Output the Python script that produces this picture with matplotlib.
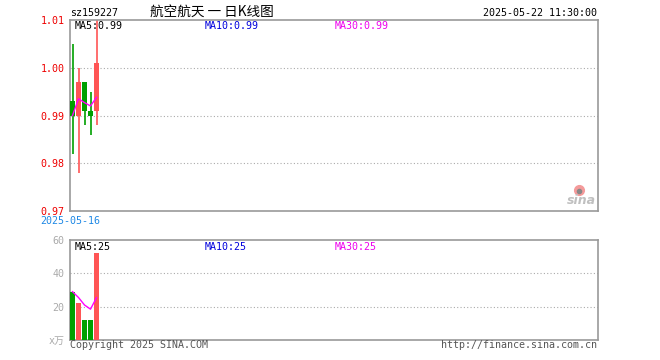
import matplotlib
matplotlib.use("Agg")
import matplotlib.pyplot as plt
import numpy as np

# K-line data (5 trading days)
opens = [0.993, 0.990, 0.997, 0.991, 0.991]
closes = [0.990, 0.997, 0.991, 0.990, 1.001]
highs = [1.005, 1.000, 0.997, 0.995, 1.012]
lows = [0.982, 0.978, 0.988, 0.986, 0.988]
ma5_price = [0.990, 0.9935, 0.9927, 0.992, 0.9938]

volumes = [29, 22, 12, 12, 52]
ma5_volume = [29, 25.5, 21, 18.5, 25.4]

price_ticks = [0.97, 0.98, 0.99, 1.00, 1.01]
volume_ticks = [0, 20, 40, 60]
volume_labels = ["x万", "20", "40", "60"]

RED = "#ff5555"
GREEN = "#00a000"
FRAME = "#999999"
MONO = "DejaVu Sans Mono"
FS = 7.2

W, H = 660, 360
fig = plt.figure(figsize=(W / 100, H / 100), dpi=100)


def px(x, y):
    return x / W, 1 - y / H


# axes placed in pixel units
ax = fig.add_axes([70 / W, 1 - 211 / H, 528 / W, 191 / H])
axv = fig.add_axes([70 / W, 1 - 340 / H, 528 / W, 100 / H])

n_slots = 528 / 6  # each candle takes 6 px
x = np.arange(len(opens))
colors = [RED if c >= o else GREEN for o, c in zip(opens, closes)]

for a in (ax, axv):
    a.set_xlim(-2.5 / 6, n_slots - 2.5 / 6)
    a.set_xticks([])
    for s in a.spines.values():
        s.set_color(FRAME)
        s.set_linewidth(1.2)

# candles
bottoms = [min(o, c) for o, c in zip(opens, closes)]
heights = [max(abs(c - o), 0.0003) for o, c in zip(opens, closes)]
ax.vlines(x, lows, highs, colors=colors, linewidth=1.2, zorder=2)
ax.bar(x, heights, bottom=bottoms, width=5 / 6, color=colors, zorder=3)
ax.plot(x, ma5_price, color="#ff00ff", linewidth=1, zorder=4)

ax.set_ylim(0.97, 1.01)
ax.set_yticks(price_ticks)
ax.set_yticklabels([f"{t:.2f}" for t in price_ticks], color="#ee0000",
                   fontfamily=MONO, fontsize=FS)
ax.tick_params(axis="y", length=0, pad=4)
for t in price_ticks[1:-1]:
    ax.axhline(t, color="#aaaaaa", linestyle=(0, (1, 2)), linewidth=0.8, zorder=1)

# volume
axv.bar(x, volumes, width=5 / 6, color=colors, zorder=3)
axv.plot(x, ma5_volume, color="#ff00ff", linewidth=1, zorder=4)
axv.set_ylim(0, 60)
axv.set_yticks(volume_ticks)
axv.set_yticklabels(volume_labels, color="#aaaaaa", fontsize=FS,
                    family=[MONO, "Noto Sans CJK SC"])
axv.tick_params(axis="y", length=0, pad=4)
for t in [20, 40]:
    axv.axhline(t, color="#aaaaaa", linestyle=(0, (1, 2)), linewidth=0.8, zorder=1)

# header texts
fig.text(*px(70, 12.5), "sz159227", fontfamily=MONO, fontsize=FS, va="center")
fig.text(*px(150, 12), "航空航天 一 日K线图", family=["Noto Sans CJK SC", "DejaVu Sans"],
         fontsize=9.8, va="center")
fig.text(*px(597, 12.5), "2025-05-22 11:30:00", fontfamily=MONO, fontsize=FS,
         va="center", ha="right")

fig.text(*px(75, 26), "MA5:0.99", fontfamily=MONO, fontsize=FS, va="center", color="black")
fig.text(*px(205, 26), "MA10:0.99", fontfamily=MONO, fontsize=FS, va="center", color="#0000dd")
fig.text(*px(335, 26), "MA30:0.99", fontfamily=MONO, fontsize=FS, va="center", color="#ee00ee")

fig.text(*px(75, 246.5), "MA5:25", fontfamily=MONO, fontsize=FS, va="center", color="black")
fig.text(*px(205, 246.5), "MA10:25", fontfamily=MONO, fontsize=FS, va="center", color="#0000dd")
fig.text(*px(335, 246.5), "MA30:25", fontfamily=MONO, fontsize=FS, va="center", color="#ee00ee")

fig.text(*px(40, 221.5), "2025-05-16", fontfamily=MONO, fontsize=FS, va="center",
         color="#1e88e5")
fig.text(*px(70, 345.5), "Copyright 2025 SINA.COM", fontfamily=MONO, fontsize=FS,
         va="center", color="#555555")
fig.text(*px(597, 345.5), "http://finance.sina.com.cn", fontfamily=MONO, fontsize=FS,
         va="center", ha="right", color="#555555")

# sina watermark: eye drawn as markers, word as text
fig.text(*px(581, 201), "sina", fontsize=9, fontweight="bold", fontstyle="italic",
         color="#c0c0c0", ha="center", va="center")
eye = fig.add_axes([570 / W, 1 - 196 / H, 18 / W, 12 / H])
eye.axis("off")
eye.set_xlim(0, 1)
eye.set_ylim(0, 1)
eye.plot([0.5], [0.5], "o", markersize=7, color="#f49a9a")
eye.plot([0.5], [0.45], "o", markersize=3, color="#888888")

fig.savefig("out.png", dpi=100)
